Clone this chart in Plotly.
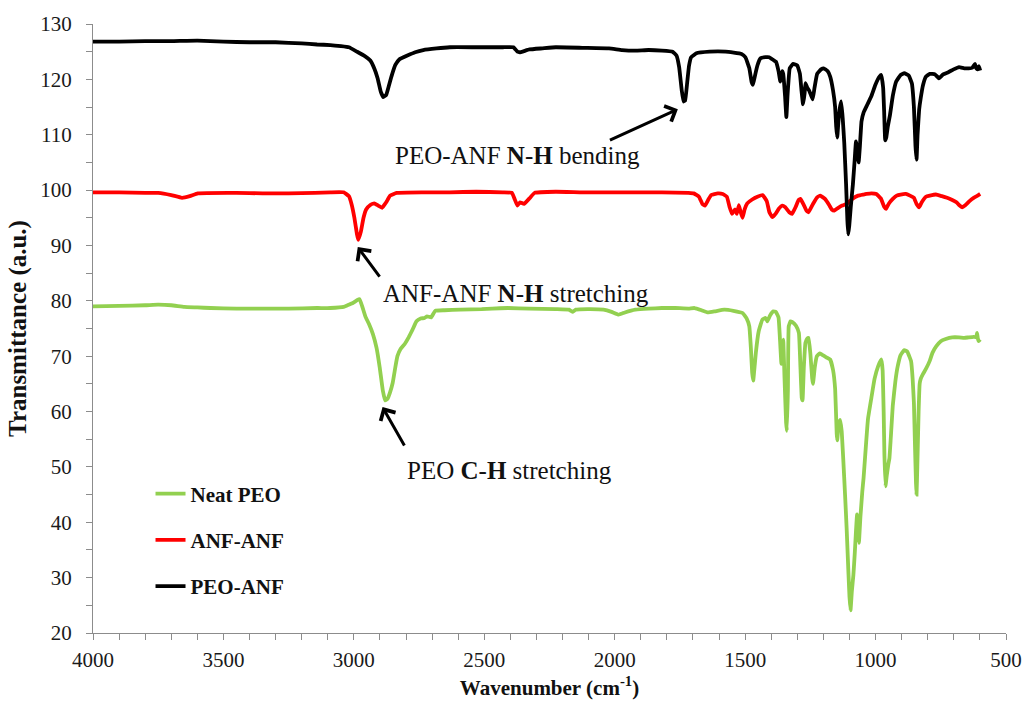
import plotly.graph_objects as go

# ---------------- data ----------------
peo_wn = [4000, 3900, 3800, 3750, 3700, 3650, 3600, 3550, 3450, 3350, 3250, 3140, 3090, 3039, 3024, 3004, 2988, 2978,
          2968, 2956, 2942, 2927, 2913, 2901, 2889, 2880, 2871, 2861, 2851, 2841, 2833, 2821, 2805, 2790, 2775, 2760,
          2744, 2729, 2719, 2704, 2688, 2653, 2592, 2510, 2470, 2409, 2327, 2226, 2175, 2162, 2149, 2104, 2043, 2012,
          1985, 1961, 1921, 1870, 1819, 1768, 1717, 1694, 1667, 1643, 1616, 1580, 1545, 1510, 1494, 1484, 1478, 1473,
          1469, 1463, 1459, 1448, 1434, 1422, 1415, 1404, 1392, 1382, 1372, 1367, 1361, 1357, 1354, 1349, 1343, 1340,
          1336, 1333, 1326, 1320, 1305, 1294, 1288, 1283, 1280, 1275, 1269, 1262, 1257, 1250, 1243, 1240, 1233, 1225,
          1214, 1206, 1189, 1174, 1163, 1155, 1149, 1147, 1142, 1136, 1130, 1124, 1117, 1111, 1105, 1100, 1096, 1091,
          1085, 1080, 1075, 1071, 1068, 1064, 1058, 1051, 1046, 1036, 1029, 1016, 1004, 990, 978, 973, 969, 966, 962,
          957, 951, 947, 940, 934, 924, 915, 904, 890, 878, 871, 864, 858, 853, 849, 845, 843, 840, 835, 831, 827, 818,
          807, 792, 782, 767, 750, 731, 706, 680, 660, 643, 624, 614, 611, 608, 605, 599]
peo_t = [79.0, 79.1, 79.2, 79.3, 79.2, 78.9, 78.8, 78.7, 78.6, 78.6, 78.6, 78.7, 78.7, 78.9, 79.2, 79.6, 80.1, 80.3,
         79.0, 77.2, 75.8, 74.0, 71.5, 68.0, 63.8, 62.0, 62.3, 63.5, 65.2, 68.0, 70.0, 71.3, 72.2, 73.4, 74.8, 76.3,
         76.8, 76.9, 77.2, 77.0, 78.2, 78.3, 78.4, 78.5, 78.6, 78.7, 78.6, 78.5, 78.4, 78.0, 78.4, 78.5, 78.4, 78.0,
         77.5, 77.9, 78.4, 78.6, 78.7, 78.7, 78.6, 78.7, 78.3, 77.9, 78.1, 78.4, 78.2, 77.8, 76.8, 75.4, 71.5, 67.0,
         65.6, 68.5, 70.6, 74.5, 76.6, 76.9, 76.3, 77.4, 78.1, 78.0, 77.0, 73.5, 68.6, 71.5, 73.0, 66.0, 58.0, 56.5,
         64.0, 75.4, 76.3, 76.2, 75.5, 74.2, 68.0, 62.5, 62.0, 68.0, 72.4, 73.2, 73.3, 70.5, 66.0, 65.0, 68.0, 70.0,
         70.5, 70.3, 69.8, 69.4, 67.5, 64.1, 56.0, 54.8, 57.5, 58.5, 56.5, 51.5, 45.0, 39.0, 32.0, 26.5, 24.1, 27.5,
         30.5, 34.2, 38.5, 41.4, 39.0, 36.3, 41.0, 45.5, 48.0, 54.5, 58.7, 62.5, 65.9, 68.2, 69.4, 67.5, 60.0, 52.0,
         46.5, 48.5, 50.5, 51.5, 56.5, 61.1, 65.5, 68.2, 70.2, 71.1, 70.8, 70.0, 69.1, 66.0, 61.5, 54.0, 47.0, 45.0,
         50.0, 60.0, 65.0, 65.9, 66.8, 67.7, 69.2, 70.6, 71.8, 72.7, 73.1, 73.4, 73.4, 73.3, 73.4, 73.5, 73.4, 74.2,
         73.2, 72.7, 73.0]

anf_wn = [4000, 3900, 3800, 3750, 3700, 3659, 3629, 3598, 3450, 3350, 3250, 3150, 3090, 3039, 3019, 3009, 2998, 2988,
          2983, 2973, 2963, 2953, 2937, 2922, 2907, 2892, 2876, 2861, 2836, 2734, 2632, 2531, 2429, 2394, 2383, 2373,
          2363, 2348, 2327, 2307, 2226, 2124, 2022, 1921, 1819, 1717, 1697, 1677, 1664, 1654, 1641, 1630, 1605, 1586,
          1570, 1560, 1550, 1539, 1532, 1524, 1517, 1510, 1502, 1492, 1473, 1453, 1433, 1417, 1407, 1396, 1382, 1370,
          1358, 1346, 1331, 1320, 1306, 1295, 1288, 1275, 1265, 1257, 1240, 1224, 1212, 1194, 1178, 1168, 1158, 1143,
          1128, 1111, 1092, 1067, 1046, 1035, 1016, 997, 980, 967, 960, 950, 934, 919, 904, 884, 868, 853, 843, 833,
          823, 807, 792, 769, 746, 726, 706, 690, 680, 668, 655, 640, 624, 609, 599]
anf_t = [99.6, 99.6, 99.5, 99.5, 99.1, 98.6, 98.9, 99.4, 99.5, 99.4, 99.4, 99.5, 99.6, 99.6, 98.9, 97.5, 95.0, 92.0,
         91.0, 92.5, 95.0, 96.5, 97.3, 97.6, 97.2, 96.8, 97.8, 99.0, 99.5, 99.6, 99.6, 99.7, 99.6, 99.5, 98.3, 97.2,
         97.8, 97.5, 98.5, 99.5, 99.7, 99.6, 99.6, 99.6, 99.6, 99.5, 99.4, 98.8, 97.5, 97.2, 98.3, 99.1, 99.4, 99.3,
         98.8, 97.0, 95.7, 96.5, 95.7, 97.3, 96.0, 95.0, 96.5, 97.6, 98.3, 98.8, 99.1, 98.0, 96.0, 95.1, 95.8, 96.7,
         97.2, 96.9, 96.0, 95.7, 97.0, 98.2, 98.4, 97.3, 96.3, 96.0, 97.5, 98.7, 99.0, 98.4, 97.3, 96.5, 96.3, 96.8,
         97.2, 97.5, 98.3, 99.0, 99.2, 99.3, 99.4, 99.3, 98.5, 97.0, 96.6, 97.5, 98.4, 99.0, 99.2, 99.3, 99.0, 98.6,
         97.5, 96.9, 97.8, 98.8, 99.0, 99.2, 98.9, 98.6, 98.2, 97.8, 97.3, 96.9, 97.3, 98.0, 98.6, 99.0, 99.3]

mix_wn = [4000, 3900, 3800, 3700, 3600, 3500, 3400, 3300, 3200, 3141, 3090, 3049, 3019, 2988, 2958, 2937, 2922, 2909,
          2897, 2887, 2876, 2866, 2856, 2841, 2826, 2795, 2765, 2734, 2683, 2632, 2531, 2429, 2388, 2373, 2363, 2348,
          2327, 2277, 2226, 2124, 2022, 1972, 1921, 1870, 1819, 1778, 1763, 1753, 1743, 1736, 1730, 1722, 1715, 1707,
          1687, 1636, 1575, 1514, 1499, 1484, 1475, 1470, 1463, 1453, 1441, 1422, 1408, 1392, 1382, 1372, 1365, 1358,
          1354, 1347, 1342, 1337, 1329, 1316, 1300, 1290, 1284, 1278, 1272, 1269, 1262, 1255, 1248, 1241, 1234, 1224,
          1209, 1199, 1184, 1174, 1163, 1155, 1151, 1147, 1143, 1138, 1132, 1126, 1120, 1113, 1108, 1105, 1101, 1095,
          1087, 1080, 1075, 1070, 1065, 1060, 1054, 1046, 1031, 1016, 1001, 985, 978, 971, 967, 963, 959, 953, 945, 934,
          921, 904, 890, 873, 861, 853, 847, 843, 839, 833, 827, 818, 807, 792, 772, 757, 741, 721, 701, 680, 660, 643,
          629, 619, 614, 609, 604, 599]
mix_t = [126.8, 126.8, 126.9, 126.9, 127.0, 126.8, 126.7, 126.7, 126.5, 126.3, 126.2, 126.0, 125.8, 125.0, 124.2,
         123.4, 122.0, 120.2, 117.8, 116.8, 117.2, 118.8, 120.5, 122.6, 123.6, 124.3, 124.9, 125.3, 125.6, 125.8, 125.8,
         125.8, 125.8, 125.0, 124.9, 125.1, 125.4, 125.6, 125.8, 125.7, 125.6, 125.3, 125.2, 125.3, 125.2, 125.0, 124.3,
         122.2, 118.0, 116.0, 116.2, 119.5, 122.5, 124.0, 124.7, 125.0, 125.0, 124.6, 124.0, 122.0, 119.5, 119.0, 120.5,
         122.5, 123.8, 124.0, 124.0, 123.5, 123.2, 121.5, 119.6, 121.5, 121.0, 117.0, 113.2, 117.5, 122.0, 122.8, 122.5,
         121.0, 118.0, 115.5, 117.5, 119.3, 118.5, 118.0, 117.2, 116.4, 118.5, 121.0, 121.8, 122.0, 121.5, 120.5, 118.0,
         115.0, 111.5, 109.5, 112.0, 114.5, 116.0, 113.0, 108.5, 101.0, 94.5, 92.0, 93.5, 97.0, 101.0, 105.5, 108.8,
         107.0, 105.0, 108.0, 112.4, 114.0, 115.5, 117.0, 119.0, 120.5, 120.8, 118.5, 114.0, 109.0, 109.5, 111.5, 113.5,
         117.0, 119.6, 120.8, 121.1, 120.7, 119.3, 115.0, 108.0, 105.5, 110.0, 114.5, 116.6, 119.0, 120.5, 121.0, 120.9,
         120.2, 120.9, 121.3, 121.8, 122.2, 122.0, 122.0, 122.1, 122.8, 122.0, 121.8, 122.4, 121.6]

series_names = ["Neat PEO", "ANF-ANF", "PEO-ANF"]
x_ticks = [4000, 3500, 3000, 2500, 2000, 1500, 1000, 500]
y_ticks = [20, 30, 40, 50, 60, 70, 80, 90, 100, 110, 120, 130]

# ---------------- figure ----------------
SERIF = "Liberation Serif"
colors = ["#92D050", "#FF0000", "#000000"]

fig = go.Figure()
for i, (wn, t) in enumerate([(peo_wn, peo_t), (anf_wn, anf_t), (mix_wn, mix_t)]):
    fig.add_trace(go.Scatter(
        x=wn, y=t, mode="lines", name=series_names[i],
        legendgroup=series_names[i],
        line=dict(color=colors[i], width=3.8, shape="spline", smoothing=0.3),
    ))

axis_common = dict(
    showgrid=False, zeroline=False, showline=True, linecolor="#8C8C8C", linewidth=1.3,
    ticks="outside", ticklen=6, tickcolor="#8C8C8C", tickwidth=1.3,
    tickfont=dict(family=SERIF, size=21, color="#1a1a1a"),
)

fig.update_xaxes(
    range=[4000, 500], tickvals=x_ticks, ticktext=[str(v) for v in x_ticks],
    minor=dict(dtick=100, ticks="outside", ticklen=6, tickcolor="#8C8C8C", tickwidth=1.3),
    title=dict(text="<b>Wavenumber (cm<sup>-1</sup>)</b>", font=dict(family=SERIF, size=21, color="#111111"),
               standoff=8),
    ticklabelstandoff=2,
    **axis_common,
)
fig.update_yaxes(
    range=[20, 130], tickvals=y_ticks, ticktext=[str(v) for v in y_ticks],
    minor=dict(dtick=5, ticks="outside", ticklen=6, tickcolor="#8C8C8C", tickwidth=1.3),
    title=dict(text="<b>Transmittance (a.u.)</b>", font=dict(family=SERIF, size=25, color="#111111"),
               standoff=6),
    ticklabelstandoff=10,
    **axis_common,
)

# arrows (head at the band, tail toward the label)
arrows = [
    (1758, 114.6, 2024, 108.9),
    (2985, 89.7, 2897, 84.1),
    (2890, 60.8, 2803, 53.6),
]
for hx, hy, tx, ty in arrows:
    fig.add_annotation(x=hx, y=hy, ax=tx, ay=ty, xref="x", yref="y", axref="x", ayref="y",
                       text="", showarrow=True, arrowhead=4, arrowsize=1.1, arrowwidth=3,
                       arrowcolor="#000000", standoff=0, startstandoff=0)

labels = [
    (2371, 106.2, "PEO-ANF <b>N</b>-<b>H</b> bending"),
    (2377, 81.4, "ANF-ANF <b>N</b>-<b>H</b> stretching"),
    (2402, 49.3, "PEO <b>C</b>-<b>H</b> stretching"),
]
for lx, ly, txt in labels:
    fig.add_annotation(x=lx, y=ly, xref="x", yref="y", text=txt, showarrow=False,
                       font=dict(family=SERIF, size=25, color="#111111"))

fig.update_layout(
    width=1034, height=707,
    margin=dict(l=93, r=20, t=22, b=71),
    paper_bgcolor="white", plot_bgcolor="white",
    showlegend=True,
    legend=dict(x=0.063, y=0.262, xanchor="left", yanchor="top",
                font=dict(family=SERIF, size=21, color="#111111", weight="bold"),
                tracegroupgap=16, bgcolor="rgba(0,0,0,0)", itemwidth=30),
)

fig.write_html("out.html")
